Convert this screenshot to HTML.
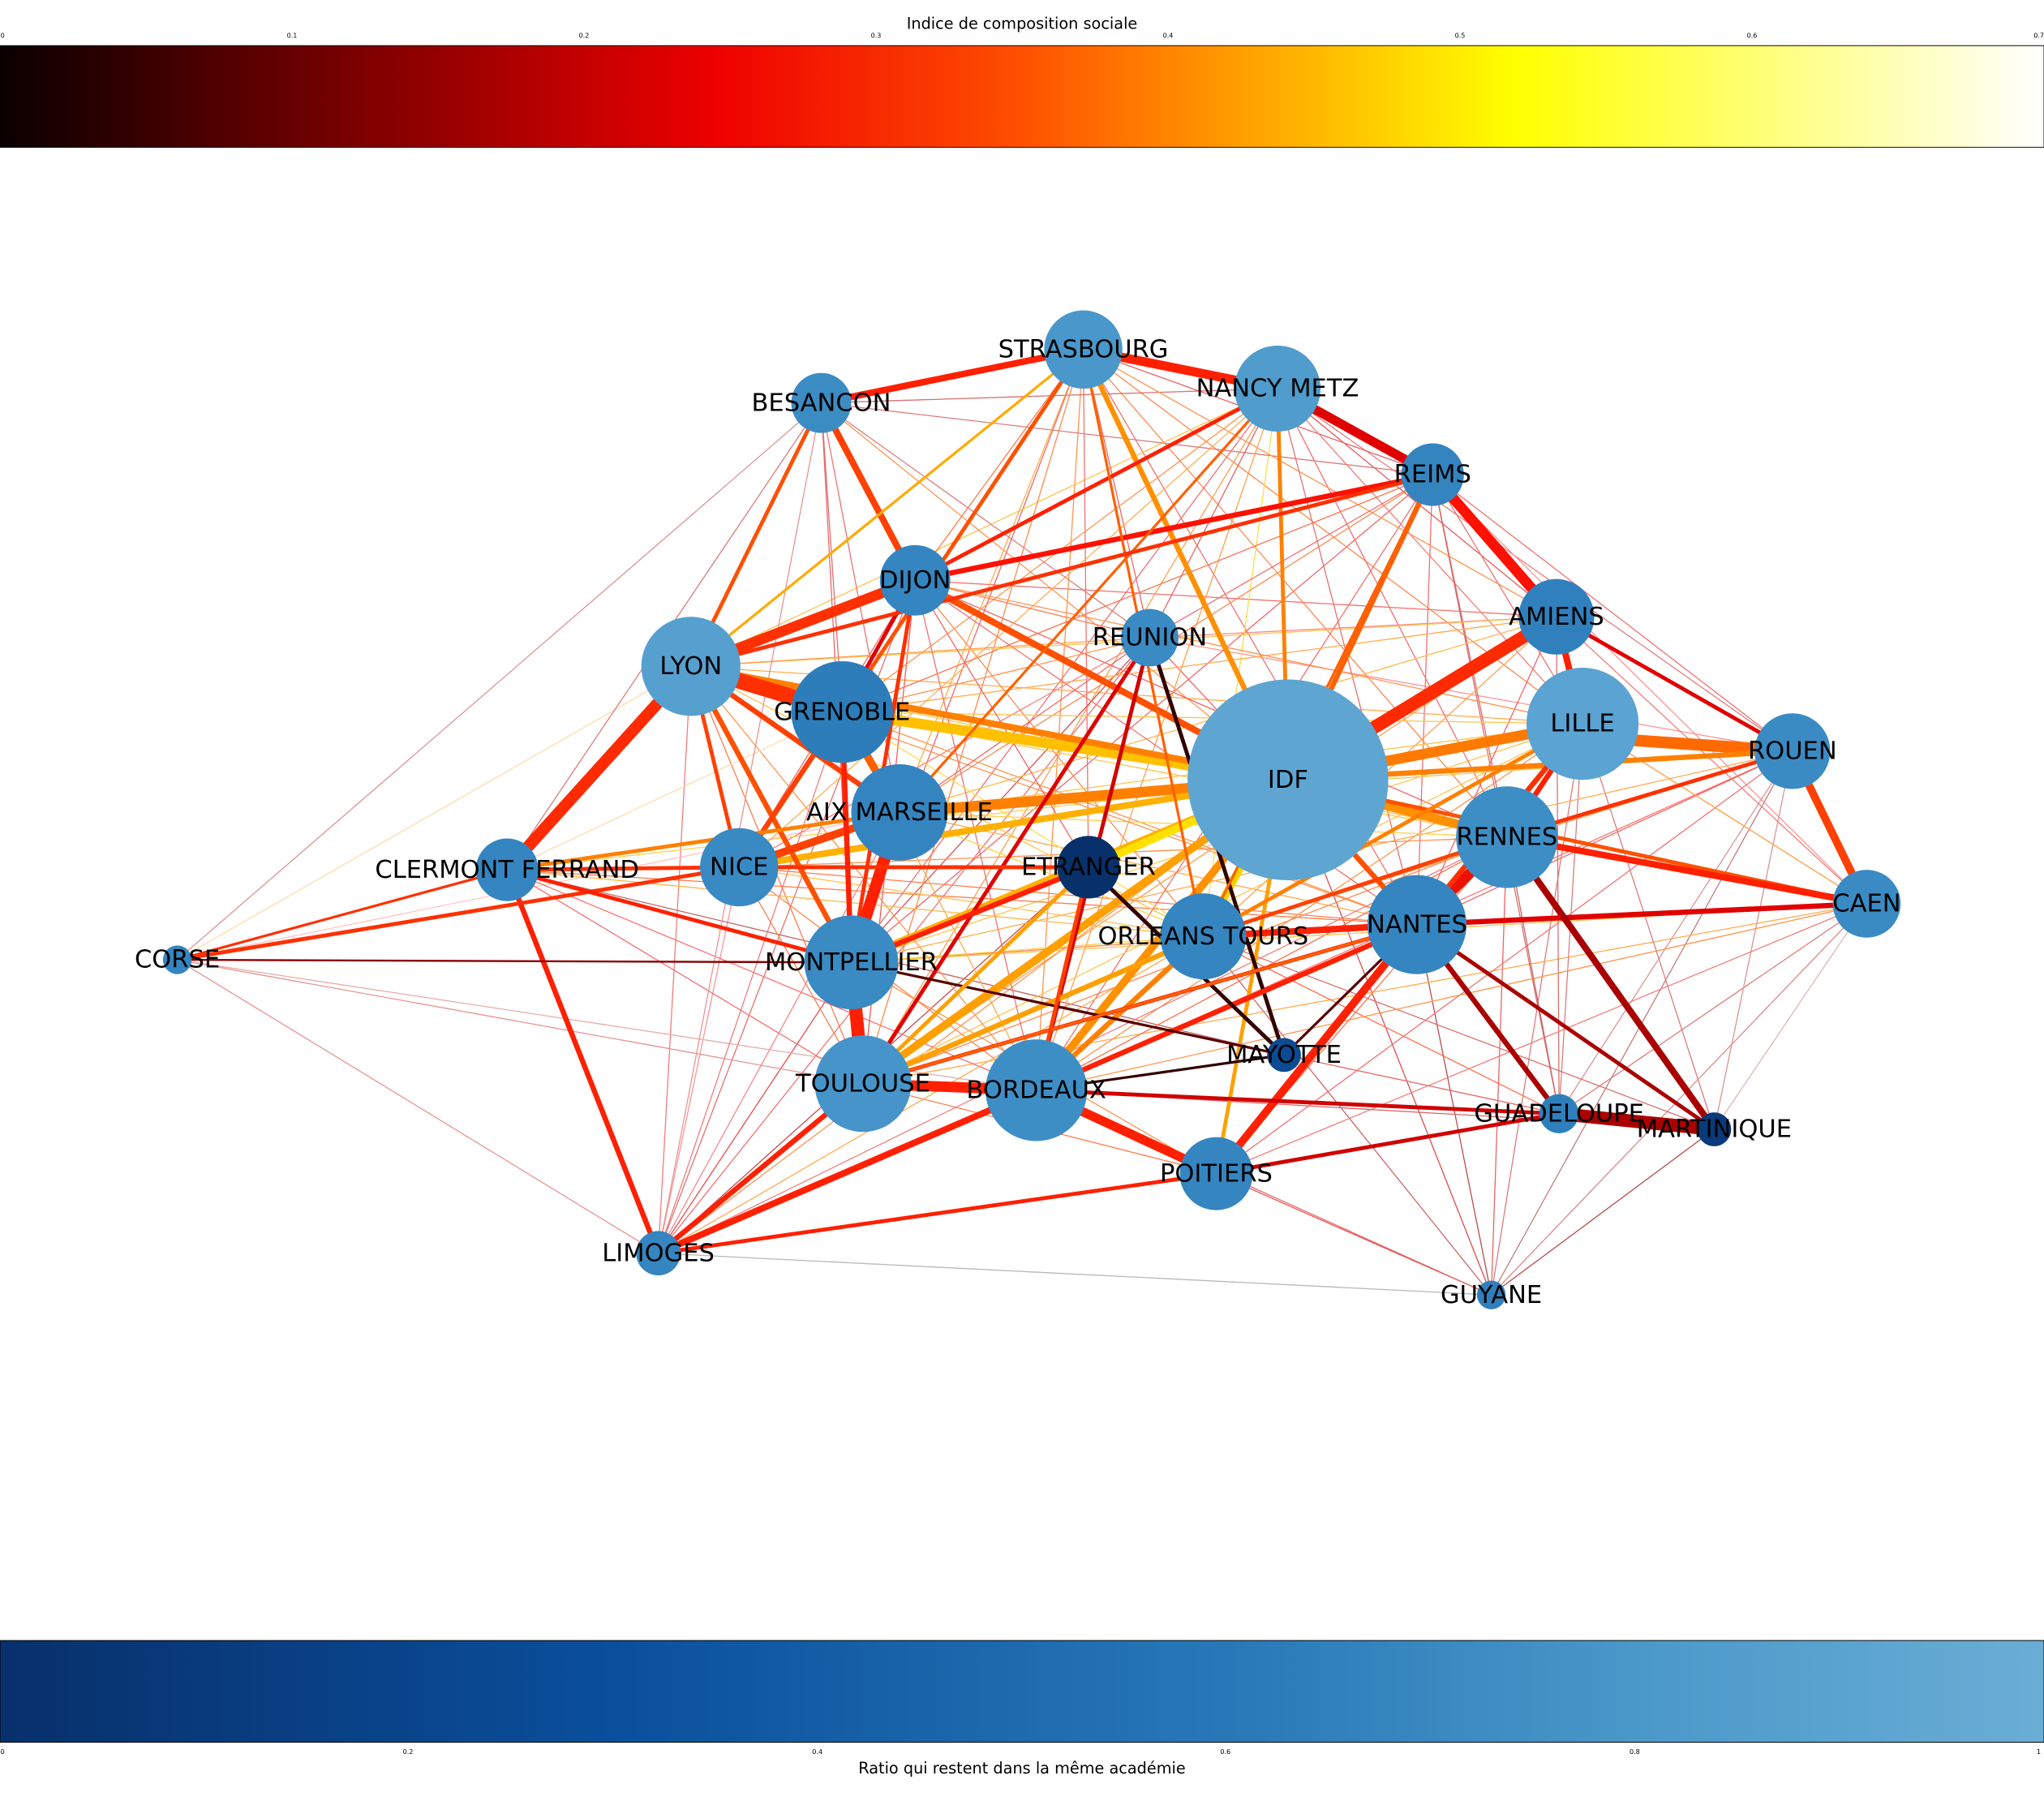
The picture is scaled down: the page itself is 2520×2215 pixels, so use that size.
<!DOCTYPE html>
<html><head><meta charset="utf-8"><style>
html,body{margin:0;padding:0;background:#fff;}
svg{display:block;}
text{font-family:"DejaVu Sans","Liberation Sans",sans-serif;}
</style></head><body>
<svg width="2520" height="2215" viewBox="0 0 1568 1378" preserveAspectRatio="none" xmlns="http://www.w3.org/2000/svg">
<defs>
<linearGradient id="hot" x1="0" x2="1" y1="0" y2="0">
<stop offset="0" stop-color="#0a0000"/>
<stop offset="0.35" stop-color="#ee0000"/>
<stop offset="0.5" stop-color="#ff5000"/>
<stop offset="0.74" stop-color="#ffff00"/>
<stop offset="1" stop-color="#ffffff"/>
</linearGradient>
<linearGradient id="blu" x1="0" x2="1" y1="0" y2="0">
<stop offset="0" stop-color="#08306b"/>
<stop offset="0.3" stop-color="#0a4f9c"/>
<stop offset="0.6" stop-color="#2878b8"/>
<stop offset="0.8" stop-color="#4a98c9"/>
<stop offset="1" stop-color="#6aaed6"/>
</linearGradient>
</defs>
<text x="784" y="22" font-size="12" text-anchor="middle">Indice de composition sociale</text>
<g font-size="5" text-anchor="middle">
<text x="2" y="29">0</text><text x="224" y="29">0.1</text><text x="448" y="29">0.2</text><text x="672" y="29">0.3</text><text x="896" y="29">0.4</text><text x="1120" y="29">0.5</text><text x="1344" y="29">0.6</text><text x="1564" y="29">0.7</text>
</g>
<rect x="0" y="35" width="1568" height="78" fill="url(#hot)" stroke="#000" stroke-width="0.6"/>
<rect x="0" y="1258" width="1568" height="78" fill="url(#blu)" stroke="#000" stroke-width="0.6"/>
<g font-size="5" text-anchor="middle">
<text x="2" y="1345">0</text><text x="313" y="1345">0.2</text><text x="627" y="1345">0.4</text><text x="940" y="1345">0.6</text><text x="1254" y="1345">0.8</text><text x="1564" y="1345">1</text>
</g>
<text x="784" y="1360" font-size="12" text-anchor="middle">Ratio qui restent dans la même académie</text>

<g stroke-linecap="butt" fill="none">
<g stroke-width="0.8" opacity="0.7">
<line x1="1144" y1="993" x2="988" y2="598" stroke="#c00"/>
<line x1="1144" y1="993" x2="1087" y2="709" stroke="#900"/>
<line x1="1144" y1="993" x2="1156" y2="642" stroke="#d22"/>
<line x1="1144" y1="993" x2="933" y2="900" stroke="#e00"/>
<line x1="1144" y1="993" x2="795" y2="836" stroke="#c33"/>
<line x1="1144" y1="993" x2="1375" y2="576" stroke="#a44"/>
<line x1="1144" y1="993" x2="1432" y2="693" stroke="#c55"/>
<line x1="1144" y1="993" x2="1315" y2="866" stroke="#900"/>
<line x1="1144" y1="993" x2="505" y2="961" stroke="#999"/>
<line x1="1144" y1="993" x2="1214" y2="555" stroke="#c44"/>
<line x1="1144" y1="993" x2="923" y2="718" stroke="#b22"/>
<line x1="505" y1="961" x2="702" y2="445" stroke="#d33"/>
<line x1="505" y1="961" x2="530" y2="511" stroke="#e44"/>
<line x1="505" y1="961" x2="690" y2="623" stroke="#e55"/>
<line x1="505" y1="961" x2="567" y2="665" stroke="#f66"/>
<line x1="505" y1="961" x2="988" y2="598" stroke="#f60"/>
<line x1="505" y1="961" x2="882" y2="489" stroke="#e33"/>
<line x1="505" y1="961" x2="835" y2="665" stroke="#a00"/>
<line x1="505" y1="961" x2="1087" y2="709" stroke="#e22"/>
<line x1="505" y1="961" x2="653" y2="738" stroke="#d00"/>
<line x1="136" y1="736" x2="630" y2="309" stroke="#c66"/>
<line x1="136" y1="736" x2="530" y2="511" stroke="#fc8"/>
<line x1="136" y1="736" x2="988" y2="598" stroke="#fd9"/>
<line x1="136" y1="736" x2="662" y2="831" stroke="#d66"/>
<line x1="136" y1="736" x2="795" y2="836" stroke="#d88"/>
<line x1="136" y1="736" x2="505" y2="961" stroke="#d66"/>
<line x1="136" y1="736" x2="690" y2="623" stroke="#faa"/>
<line x1="1432" y1="693" x2="1315" y2="866" stroke="#c99"/>
<line x1="1432" y1="693" x2="1196" y2="854" stroke="#c44"/>
<line x1="1432" y1="693" x2="662" y2="831" stroke="#f80"/>
<line x1="1432" y1="693" x2="923" y2="718" stroke="#f90"/>
<line x1="1375" y1="576" x2="1196" y2="854" stroke="#c66"/>
<line x1="1375" y1="576" x2="1315" y2="866" stroke="#c66"/>
<line x1="1375" y1="576" x2="795" y2="836" stroke="#f33"/>
<line x1="1375" y1="576" x2="882" y2="489" stroke="#f66"/>
<line x1="1375" y1="576" x2="980" y2="298" stroke="#d44"/>
<line x1="1099" y1="364" x2="1375" y2="576" stroke="#e33"/>
<line x1="1099" y1="364" x2="1432" y2="693" stroke="#f66"/>
<line x1="1099" y1="364" x2="653" y2="738" stroke="#e22"/>
<line x1="1099" y1="364" x2="1087" y2="709" stroke="#e33"/>
<line x1="1099" y1="364" x2="1196" y2="854" stroke="#b33"/>
<line x1="1194" y1="473" x2="662" y2="831" stroke="#f70"/>
<line x1="1194" y1="473" x2="702" y2="445" stroke="#e33"/>
<line x1="1194" y1="473" x2="882" y2="489" stroke="#f55"/>
<line x1="1194" y1="473" x2="1375" y2="576" stroke="#d22"/>
<line x1="1214" y1="555" x2="530" y2="511" stroke="#f80"/>
<line x1="1214" y1="555" x2="653" y2="738" stroke="#fa0"/>
<line x1="1214" y1="555" x2="1196" y2="854" stroke="#c44"/>
<line x1="831" y1="268" x2="1156" y2="642" stroke="#f50"/>
<line x1="831" y1="268" x2="653" y2="738" stroke="#e22"/>
<line x1="831" y1="268" x2="795" y2="836" stroke="#f60"/>
<line x1="831" y1="268" x2="1214" y2="555" stroke="#f50"/>
<line x1="831" y1="268" x2="1087" y2="709" stroke="#e33"/>
<line x1="980" y1="298" x2="530" y2="511" stroke="#fa0"/>
<line x1="980" y1="298" x2="662" y2="831" stroke="#f70"/>
<line x1="980" y1="298" x2="1156" y2="642" stroke="#e33"/>
<line x1="980" y1="298" x2="923" y2="718" stroke="#fc0"/>
<line x1="980" y1="298" x2="1194" y2="473" stroke="#d11"/>
<line x1="630" y1="309" x2="980" y2="298" stroke="#c33"/>
<line x1="630" y1="309" x2="988" y2="598" stroke="#f60"/>
<line x1="630" y1="309" x2="653" y2="738" stroke="#e22"/>
<line x1="630" y1="309" x2="1099" y2="364" stroke="#c44"/>
<line x1="702" y1="445" x2="1156" y2="642" stroke="#e22"/>
<line x1="702" y1="445" x2="923" y2="718" stroke="#f50"/>
<line x1="702" y1="445" x2="662" y2="831" stroke="#e11"/>
<line x1="882" y1="489" x2="567" y2="665" stroke="#f44"/>
<line x1="882" y1="489" x2="1087" y2="709" stroke="#e22"/>
<line x1="882" y1="489" x2="653" y2="738" stroke="#c00"/>
<line x1="389" y1="667" x2="1087" y2="709" stroke="#f40"/>
<line x1="389" y1="667" x2="988" y2="598" stroke="#fb0"/>
<line x1="389" y1="667" x2="985" y2="809" stroke="#a22"/>
<line x1="389" y1="667" x2="795" y2="836" stroke="#f33"/>
<line x1="567" y1="665" x2="1087" y2="709" stroke="#f40"/>
<line x1="567" y1="665" x2="1156" y2="642" stroke="#f60"/>
<line x1="923" y1="718" x2="1196" y2="854" stroke="#f30"/>
<line x1="923" y1="718" x2="1315" y2="866" stroke="#c33"/>
<line x1="653" y1="738" x2="1196" y2="854" stroke="#d22"/>
<line x1="653" y1="738" x2="1087" y2="709" stroke="#f40"/>
<line x1="690" y1="623" x2="1087" y2="709" stroke="#f80"/>
<line x1="690" y1="623" x2="1214" y2="555" stroke="#fa0"/>
<line x1="646" y1="546" x2="1156" y2="642" stroke="#fa0"/>
<line x1="646" y1="546" x2="1087" y2="709" stroke="#f60"/>
<line x1="662" y1="831" x2="1156" y2="642" stroke="#f50"/>
<line x1="795" y1="836" x2="1156" y2="642" stroke="#f30"/>
<line x1="795" y1="836" x2="1214" y2="555" stroke="#f60"/>
<line x1="933" y1="900" x2="1156" y2="642" stroke="#f30"/>
<line x1="933" y1="900" x2="1214" y2="555" stroke="#f40"/>
<line x1="933" y1="900" x2="1375" y2="576" stroke="#e33"/>
<!-- extra mesh -->
<line x1="831" y1="268" x2="702" y2="445" stroke="#f40"/>
<line x1="831" y1="268" x2="882" y2="489" stroke="#e22"/>
<line x1="831" y1="268" x2="1099" y2="364" stroke="#d22"/>
<line x1="831" y1="268" x2="1194" y2="473" stroke="#f60"/>
<line x1="831" y1="268" x2="690" y2="623" stroke="#f80"/>
<line x1="831" y1="268" x2="567" y2="665" stroke="#f70"/>
<line x1="831" y1="268" x2="835" y2="665" stroke="#e33"/>
<line x1="831" y1="268" x2="662" y2="831" stroke="#f50"/>
<line x1="980" y1="298" x2="646" y2="546" stroke="#f60"/>
<line x1="980" y1="298" x2="653" y2="738" stroke="#e33"/>
<line x1="980" y1="298" x2="795" y2="836" stroke="#f70"/>
<line x1="980" y1="298" x2="882" y2="489" stroke="#d22"/>
<line x1="980" y1="298" x2="1214" y2="555" stroke="#e44"/>
<line x1="980" y1="298" x2="1087" y2="709" stroke="#d33"/>
<line x1="980" y1="298" x2="567" y2="665" stroke="#f80"/>
<line x1="1099" y1="364" x2="646" y2="546" stroke="#f30"/>
<line x1="1099" y1="364" x2="690" y2="623" stroke="#f50"/>
<line x1="1099" y1="364" x2="882" y2="489" stroke="#e33"/>
<line x1="1099" y1="364" x2="1156" y2="642" stroke="#d22"/>
<line x1="1099" y1="364" x2="1214" y2="555" stroke="#e33"/>
<line x1="1099" y1="364" x2="923" y2="718" stroke="#f50"/>
<line x1="1099" y1="364" x2="795" y2="836" stroke="#e33"/>
<line x1="1194" y1="473" x2="646" y2="546" stroke="#f80"/>
<line x1="1194" y1="473" x2="530" y2="511" stroke="#fa0"/>
<line x1="1194" y1="473" x2="690" y2="623" stroke="#f90"/>
<line x1="1194" y1="473" x2="1432" y2="693" stroke="#e44"/>
<line x1="1194" y1="473" x2="1087" y2="709" stroke="#e22"/>
<line x1="1194" y1="473" x2="795" y2="836" stroke="#f70"/>
<line x1="1194" y1="473" x2="1196" y2="854" stroke="#c33"/>
<line x1="1214" y1="555" x2="646" y2="546" stroke="#fa0"/>
<line x1="1214" y1="555" x2="702" y2="445" stroke="#f60"/>
<line x1="1214" y1="555" x2="1432" y2="693" stroke="#e33"/>
<line x1="1214" y1="555" x2="1315" y2="866" stroke="#c44"/>
<line x1="1214" y1="555" x2="662" y2="831" stroke="#fa0"/>
<line x1="1375" y1="576" x2="1087" y2="709" stroke="#e22"/>
<line x1="1375" y1="576" x2="923" y2="718" stroke="#f70"/>
<line x1="1375" y1="576" x2="653" y2="738" stroke="#f80"/>
<line x1="1375" y1="576" x2="690" y2="623" stroke="#fa0"/>
<line x1="1432" y1="693" x2="795" y2="836" stroke="#f60"/>
<line x1="1432" y1="693" x2="653" y2="738" stroke="#fa0"/>
<line x1="1432" y1="693" x2="933" y2="900" stroke="#e44"/>
<line x1="1432" y1="693" x2="1214" y2="555" stroke="#f80"/>
<line x1="1156" y1="642" x2="1196" y2="854" stroke="#b22"/>
<line x1="1156" y1="642" x2="690" y2="623" stroke="#fb0"/>
<line x1="1156" y1="642" x2="530" y2="511" stroke="#fa0"/>
<line x1="1087" y1="709" x2="1315" y2="866" stroke="#a22"/>
<line x1="1087" y1="709" x2="530" y2="511" stroke="#f60"/>
<line x1="1087" y1="709" x2="702" y2="445" stroke="#e33"/>
<line x1="702" y1="445" x2="835" y2="665" stroke="#e22"/>
<line x1="702" y1="445" x2="795" y2="836" stroke="#e33"/>
<line x1="702" y1="445" x2="567" y2="665" stroke="#e22"/>
<line x1="702" y1="445" x2="882" y2="489" stroke="#f40"/>
<line x1="630" y1="309" x2="646" y2="546" stroke="#c33"/>
<line x1="630" y1="309" x2="690" y2="623" stroke="#e33"/>
<line x1="630" y1="309" x2="882" y2="489" stroke="#c44"/>
<line x1="630" y1="309" x2="389" y2="667" stroke="#c44"/>
<line x1="530" y1="511" x2="882" y2="489" stroke="#f70"/>
<line x1="530" y1="511" x2="795" y2="836" stroke="#f60"/>
<line x1="530" y1="511" x2="662" y2="831" stroke="#f40"/>
<line x1="530" y1="511" x2="923" y2="718" stroke="#fa0"/>
<line x1="646" y1="546" x2="923" y2="718" stroke="#fc0"/>
<line x1="646" y1="546" x2="795" y2="836" stroke="#f80"/>
<line x1="646" y1="546" x2="882" y2="489" stroke="#f60"/>
<line x1="690" y1="623" x2="923" y2="718" stroke="#fb0"/>
<line x1="690" y1="623" x2="882" y2="489" stroke="#e22"/>
<line x1="567" y1="665" x2="923" y2="718" stroke="#fa0"/>
<line x1="567" y1="665" x2="795" y2="836" stroke="#f50"/>
<line x1="567" y1="665" x2="662" y2="831" stroke="#f40"/>
<line x1="653" y1="738" x2="923" y2="718" stroke="#fb0"/>
<line x1="653" y1="738" x2="933" y2="900" stroke="#f60"/>
<line x1="662" y1="831" x2="933" y2="900" stroke="#f40"/>
<line x1="795" y1="836" x2="1315" y2="866" stroke="#c22"/>
<line x1="662" y1="831" x2="1196" y2="854" stroke="#d33"/>
<line x1="389" y1="667" x2="662" y2="831" stroke="#e33"/>
<line x1="389" y1="667" x2="923" y2="718" stroke="#f90"/>
<line x1="389" y1="667" x2="646" y2="546" stroke="#fc8"/>
<line x1="505" y1="961" x2="923" y2="718" stroke="#f80"/>
<line x1="505" y1="961" x2="646" y2="546" stroke="#e44"/>
<line x1="505" y1="961" x2="630" y2="309" stroke="#d66"/>
<line x1="505" y1="961" x2="1156" y2="642" stroke="#e44"/>
</g>
<!-- main edges -->
<line x1="988" y1="598" x2="1194" y2="473" stroke="#ff2a00" stroke-width="10"/>
<line x1="988" y1="598" x2="1214" y2="555" stroke="#ff7a00" stroke-width="8"/>
<line x1="1214" y1="565" x2="1375" y2="576" stroke="#ff6a00" stroke-width="9"/>
<line x1="988" y1="598" x2="1375" y2="576" stroke="#ff8000" stroke-width="4"/>
<line x1="988" y1="598" x2="646" y2="546" stroke="#ffc000" stroke-width="8"/>
<line x1="988" y1="598" x2="690" y2="623" stroke="#ff8000" stroke-width="8"/>
<line x1="988" y1="598" x2="1156" y2="642" stroke="#ff9000" stroke-width="7"/>
<line x1="988" y1="598" x2="567" y2="665" stroke="#ffb000" stroke-width="5"/>
<line x1="988" y1="598" x2="923" y2="718" stroke="#ffd000" stroke-width="6"/>
<line x1="988" y1="598" x2="653" y2="738" stroke="#ffb000" stroke-width="6"/>
<line x1="988" y1="598" x2="662" y2="831" stroke="#ffa000" stroke-width="6"/>
<line x1="988" y1="598" x2="795" y2="836" stroke="#ff9000" stroke-width="6"/>
<line x1="988" y1="598" x2="835" y2="665" stroke="#ffe000" stroke-width="6"/>
<line x1="988" y1="598" x2="530" y2="511" stroke="#ff8000" stroke-width="5"/>
<line x1="988" y1="598" x2="702" y2="445" stroke="#ff5000" stroke-width="5"/>
<line x1="988" y1="598" x2="1087" y2="709" stroke="#ff5000" stroke-width="4"/>
<line x1="988" y1="598" x2="1099" y2="364" stroke="#ff6000" stroke-width="4"/>
<line x1="988" y1="598" x2="980" y2="298" stroke="#ff8000" stroke-width="3"/>
<line x1="988" y1="598" x2="831" y2="268" stroke="#ff9000" stroke-width="4"/>
<line x1="988" y1="598" x2="1432" y2="693" stroke="#ff5000" stroke-width="3"/>
<line x1="988" y1="598" x2="933" y2="900" stroke="#ffa000" stroke-width="3"/>
<line x1="882" y1="489" x2="985" y2="809" stroke="#300000" stroke-width="3"/>
<line x1="530" y1="511" x2="646" y2="546" stroke="#ff3000" stroke-width="12"/>
<line x1="530" y1="511" x2="702" y2="445" stroke="#ff3000" stroke-width="8"/>
<line x1="530" y1="511" x2="389" y2="667" stroke="#ff2a00" stroke-width="9"/>
<line x1="530" y1="511" x2="690" y2="623" stroke="#ff4000" stroke-width="4"/>
<line x1="530" y1="511" x2="653" y2="738" stroke="#ff5000" stroke-width="4"/>
<line x1="530" y1="511" x2="567" y2="665" stroke="#ff4000" stroke-width="3"/>
<line x1="1099" y1="364" x2="1194" y2="473" stroke="#ff1000" stroke-width="8"/>
<line x1="980" y1="298" x2="1099" y2="364" stroke="#e00000" stroke-width="7"/>
<line x1="831" y1="268" x2="980" y2="298" stroke="#ff2000" stroke-width="7"/>
<line x1="630" y1="309" x2="831" y2="268" stroke="#ff2000" stroke-width="5"/>
<line x1="630" y1="309" x2="702" y2="445" stroke="#ff4000" stroke-width="5"/>
<line x1="630" y1="309" x2="530" y2="511" stroke="#ff5000" stroke-width="3"/>
<line x1="702" y1="445" x2="1099" y2="364" stroke="#ff1000" stroke-width="4"/>
<line x1="702" y1="445" x2="646" y2="546" stroke="#e00000" stroke-width="3"/>
<line x1="646" y1="546" x2="690" y2="623" stroke="#ff6000" stroke-width="6"/>
<line x1="646" y1="546" x2="567" y2="665" stroke="#ff4000" stroke-width="4"/>
<line x1="690" y1="623" x2="653" y2="738" stroke="#ff2000" stroke-width="9"/>
<line x1="690" y1="623" x2="567" y2="665" stroke="#ff4000" stroke-width="6"/>
<line x1="653" y1="738" x2="662" y2="831" stroke="#ff2000" stroke-width="10"/>
<line x1="662" y1="831" x2="795" y2="836" stroke="#ff2000" stroke-width="8"/>
<line x1="795" y1="836" x2="933" y2="900" stroke="#ff2000" stroke-width="7"/>
<line x1="662" y1="831" x2="505" y2="961" stroke="#ff2000" stroke-width="4"/>
<line x1="795" y1="836" x2="505" y2="961" stroke="#ff2000" stroke-width="5"/>
<line x1="933" y1="900" x2="505" y2="961" stroke="#ff2000" stroke-width="3"/>
<line x1="389" y1="667" x2="505" y2="961" stroke="#ff2000" stroke-width="4"/>
<line x1="1087" y1="709" x2="1156" y2="642" stroke="#ee1000" stroke-width="8"/>
<line x1="1087" y1="709" x2="933" y2="900" stroke="#ff2000" stroke-width="6"/>
<line x1="1087" y1="709" x2="923" y2="718" stroke="#ff2000" stroke-width="5"/>
<line x1="1375" y1="576" x2="1432" y2="693" stroke="#ff4000" stroke-width="6"/>
<line x1="1156" y1="642" x2="1432" y2="693" stroke="#ff2000" stroke-width="5"/>
<line x1="1087" y1="709" x2="1432" y2="693" stroke="#e00000" stroke-width="4"/>
<line x1="1196" y1="854" x2="1315" y2="866" stroke="#aa0000" stroke-width="10"/>
<line x1="1156" y1="642" x2="1315" y2="866" stroke="#aa0000" stroke-width="5"/>
<line x1="1087" y1="709" x2="1196" y2="854" stroke="#aa0000" stroke-width="4"/>
<line x1="795" y1="836" x2="1196" y2="854" stroke="#d00000" stroke-width="3"/>
<line x1="933" y1="900" x2="1196" y2="854" stroke="#d00000" stroke-width="3"/>
<line x1="136" y1="736" x2="567" y2="665" stroke="#ff3000" stroke-width="3"/>
<line x1="136" y1="736" x2="389" y2="667" stroke="#ff3000" stroke-width="2"/>
<line x1="136" y1="736" x2="653" y2="738" stroke="#880000" stroke-width="1.5"/>
<line x1="389" y1="667" x2="567" y2="665" stroke="#ff3000" stroke-width="3"/>
<line x1="389" y1="667" x2="653" y2="738" stroke="#ff2000" stroke-width="3"/>
<line x1="389" y1="667" x2="690" y2="623" stroke="#ff8000" stroke-width="3"/>
<line x1="1194" y1="473" x2="1214" y2="555" stroke="#ff2000" stroke-width="5"/>
<line x1="1194" y1="473" x2="1375" y2="576" stroke="#e00000" stroke-width="3"/>
<line x1="882" y1="489" x2="662" y2="831" stroke="#e00000" stroke-width="3"/>
<line x1="882" y1="489" x2="795" y2="836" stroke="#d00000" stroke-width="3"/>
<line x1="835" y1="665" x2="653" y2="738" stroke="#ff2000" stroke-width="4"/>
<line x1="662" y1="831" x2="923" y2="718" stroke="#ffa000" stroke-width="4"/>
<line x1="795" y1="836" x2="923" y2="718" stroke="#ff8000" stroke-width="4"/>
<line x1="795" y1="836" x2="1087" y2="709" stroke="#ff2000" stroke-width="4"/>
<line x1="985" y1="809" x2="835" y2="665" stroke="#300000" stroke-width="3"/>
<line x1="985" y1="809" x2="795" y2="836" stroke="#300000" stroke-width="2"/>
<line x1="662" y1="831" x2="1087" y2="709" stroke="#ff2000" stroke-width="3"/>
<line x1="980" y1="298" x2="702" y2="445" stroke="#ff2000" stroke-width="3"/>
<line x1="831" y1="268" x2="646" y2="546" stroke="#ff5000" stroke-width="3"/>
<line x1="831" y1="268" x2="530" y2="511" stroke="#ffaa00" stroke-width="2"/>
<line x1="831" y1="268" x2="923" y2="718" stroke="#ff6000" stroke-width="2"/>
<line x1="980" y1="298" x2="690" y2="623" stroke="#ff6000" stroke-width="2"/>
<line x1="1099" y1="364" x2="530" y2="511" stroke="#ff3000" stroke-width="3"/>
<line x1="653" y1="738" x2="985" y2="809" stroke="#550000" stroke-width="2"/>
<line x1="567" y1="665" x2="835" y2="665" stroke="#ff3000" stroke-width="3"/>
<line x1="1156" y1="642" x2="1214" y2="555" stroke="#ff2000" stroke-width="4"/>
<line x1="702" y1="445" x2="653" y2="738" stroke="#ff3000" stroke-width="3"/>
<line x1="646" y1="546" x2="653" y2="738" stroke="#ff2000" stroke-width="4"/>
<line x1="1156" y1="642" x2="923" y2="718" stroke="#ff4000" stroke-width="3"/>
<line x1="1087" y1="709" x2="662" y2="831" stroke="#ff6000" stroke-width="2"/>
<line x1="1087" y1="709" x2="985" y2="809" stroke="#550000" stroke-width="2"/>
<line x1="1087" y1="709" x2="1315" y2="866" stroke="#aa0000" stroke-width="3"/>
<line x1="1214" y1="555" x2="1087" y2="709" stroke="#ff3000" stroke-width="4"/>
<line x1="1214" y1="555" x2="923" y2="718" stroke="#ff8000" stroke-width="3"/>
<line x1="1375" y1="576" x2="1156" y2="642" stroke="#ff3000" stroke-width="3"/>
<line x1="795" y1="836" x2="835" y2="665" stroke="#ff4000" stroke-width="3"/>
<line x1="662" y1="831" x2="835" y2="665" stroke="#ffa000" stroke-width="3"/>
<line x1="1099" y1="364" x2="923" y2="718" stroke="#ff6000" stroke-width="2"/>
</g>

<g>
<circle cx="831" cy="268" r="30" fill="#4a98cb"/>
<circle cx="980" cy="298" r="33" fill="#4f9ccd"/>
<circle cx="630" cy="309" r="23" fill="#3c8cc4"/>
<circle cx="1099" cy="364" r="24" fill="#3484c0"/>
<circle cx="702" cy="445" r="27" fill="#3585c0"/>
<circle cx="1194" cy="473" r="29" fill="#3080be"/>
<circle cx="882" cy="489" r="22" fill="#3a8ac3"/>
<circle cx="530" cy="511" r="38" fill="#56a0d0"/>
<circle cx="646" cy="546" r="39" fill="#2c7dba"/>
<circle cx="1214" cy="555" r="43" fill="#5aa3d2"/>
<circle cx="988" cy="598" r="77" fill="#5ea5d2"/>
<circle cx="1375" cy="576" r="29" fill="#3a8ac4"/>
<circle cx="690" cy="623" r="37" fill="#3484c0"/>
<circle cx="1156" cy="642" r="39" fill="#3e8ec6"/>
<circle cx="567" cy="665" r="30" fill="#3989c3"/>
<circle cx="835" cy="665" r="24" fill="#08306b"/>
<circle cx="389" cy="667" r="24" fill="#3585c0"/>
<circle cx="1432" cy="693" r="26" fill="#3a8ac3"/>
<circle cx="923" cy="718" r="33" fill="#3585c0"/>
<circle cx="1087" cy="709" r="38" fill="#3585c0"/>
<circle cx="136" cy="736" r="11" fill="#3585c0"/>
<circle cx="653" cy="738" r="36" fill="#3a8ac3"/>
<circle cx="985" cy="809" r="13" fill="#0c4a92"/>
<circle cx="662" cy="831" r="37" fill="#4694c9"/>
<circle cx="795" cy="836" r="39" fill="#3e8ec6"/>
<circle cx="1196" cy="854" r="15" fill="#2f7fbd"/>
<circle cx="1315" cy="866" r="13" fill="#0a3a7a"/>
<circle cx="933" cy="900" r="28" fill="#3585c0"/>
<circle cx="505" cy="961" r="17" fill="#3585c0"/>
<circle cx="1144" cy="993" r="11" fill="#2f7fbd"/>
</g>

<g font-size="19" text-anchor="middle" fill="#000">
<text x="831" y="274">STRASBOURG</text>
<text x="980" y="304">NANCY METZ</text>
<text x="630" y="315">BESANCON</text>
<text x="1099" y="370">REIMS</text>
<text x="702" y="451">DIJON</text>
<text x="1194" y="479">AMIENS</text>
<text x="882" y="495">REUNION</text>
<text x="530" y="517">LYON</text>
<text x="646" y="552">GRENOBLE</text>
<text x="1214" y="561">LILLE</text>
<text x="988" y="604">IDF</text>
<text x="1375" y="582">ROUEN</text>
<text x="690" y="629">AIX MARSEILLE</text>
<text x="1156" y="648">RENNES</text>
<text x="567" y="671">NICE</text>
<text x="835" y="671">ETRANGER</text>
<text x="389" y="673">CLERMONT FERRAND</text>
<text x="1432" y="699">CAEN</text>
<text x="923" y="724">ORLEANS TOURS</text>
<text x="1087" y="715">NANTES</text>
<text x="136" y="742">CORSE</text>
<text x="653" y="744">MONTPELLIER</text>
<text x="985" y="815">MAYOTTE</text>
<text x="662" y="837">TOULOUSE</text>
<text x="795" y="842">BORDEAUX</text>
<text x="1196" y="860">GUADELOUPE</text>
<text x="1315" y="872">MARTINIQUE</text>
<text x="933" y="906">POITIERS</text>
<text x="505" y="967">LIMOGES</text>
<text x="1144" y="999">GUYANE</text>
</g>
</svg>
</body></html>
